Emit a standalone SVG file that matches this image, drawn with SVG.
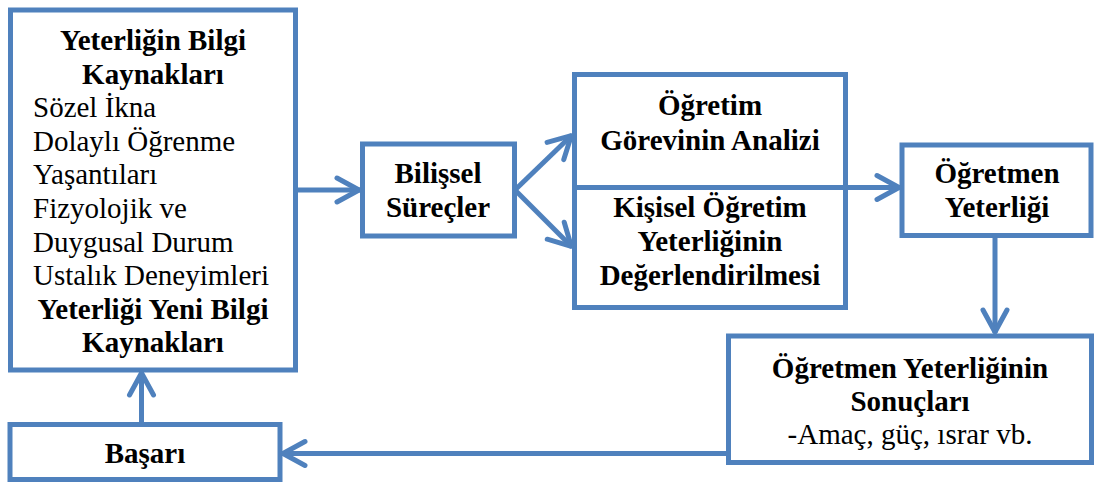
<svg xmlns="http://www.w3.org/2000/svg" width="1094" height="482" viewBox="0 0 1094 482">
<style>
.box{fill:#fff;stroke:#4F81BD;stroke-width:5}
.ln{fill:none;stroke:#4F81BD;stroke-width:5}
text{font-family:'Times New Roman','Liberation Serif',serif;font-size:29px;fill:#000}
.b{font-weight:bold}
.c{text-anchor:middle}
</style>
<defs>
<marker id="arr" markerUnits="userSpaceOnUse" markerWidth="40" markerHeight="40" viewBox="-30 -20 40 40" refX="0" refY="0" orient="auto" overflow="visible">
<path d="M-23,-12 L-1,0 L-23,12" fill="none" stroke="#4F81BD" stroke-width="5" stroke-linecap="round" stroke-linejoin="round"/>
</marker>
</defs>
<rect width="1094" height="482" fill="#fff"/>
<g id="node-kaynaklar">
<rect class="box" x="10.5" y="10" width="285" height="360"/>
<text class="b c" x="153" y="50">Yeterliğin Bilgi</text>
<text class="b c" x="153" y="83.5">Kaynakları</text>
<text x="33" y="117">Sözel İkna</text>
<text x="33" y="150.5">Dolaylı Öğrenme</text>
<text x="33" y="184">Yaşantıları</text>
<text x="33" y="218">Fizyolojik ve</text>
<text x="33" y="251.5">Duygusal Durum</text>
<text x="33" y="285">Ustalık Deneyimleri</text>
<text class="b c" x="153" y="318.5">Yeterliği Yeni Bilgi</text>
<text class="b c" x="153" y="352">Kaynakları</text>
</g>
<g id="node-bilissel">
<rect class="box" x="362.5" y="144" width="152" height="92"/>
<text class="b c" x="438" y="183">Bilişsel</text>
<text class="b c" x="438" y="217">Süreçler</text>
</g>
<g id="node-ogretim">
<rect class="box" x="574.5" y="74.5" width="271" height="233"/>
<text class="b c" x="710" y="115">Öğretim</text>
<text class="b c" x="710" y="150">Görevinin Analizi</text>
<text class="b c" x="710" y="217">Kişisel Öğretim</text>
<text class="b c" x="710" y="251">Yeterliğinin</text>
<text class="b c" x="710" y="285">Değerlendirilmesi</text>
</g>
<g id="node-ogretmen">
<rect class="box" x="902" y="145" width="189" height="90.5"/>
<text class="b c" x="997" y="183">Öğretmen</text>
<text class="b c" x="997" y="217">Yeterliği</text>
</g>
<g id="node-sonuclar">
<rect class="box" x="728.5" y="336" width="363" height="126.5"/>
<text class="b c" x="910" y="378">Öğretmen Yeterliğinin</text>
<text class="b c" x="910" y="411">Sonuçları</text>
<text class="c" x="910" y="444">-Amaç, güç, ısrar vb.</text>
</g>
<g id="node-basari">
<rect class="box" x="10" y="424.5" width="270" height="55"/>
<text class="b c" x="145" y="463">Başarı</text>
</g>
<g id="connectors">
<line class="ln" x1="298" y1="190" x2="360" y2="190" marker-end="url(#arr)"/>
<line class="ln" x1="516" y1="189" x2="572" y2="135" marker-end="url(#arr)"/>
<line class="ln" x1="516" y1="191" x2="572" y2="247" marker-end="url(#arr)"/>
<line class="ln" x1="572" y1="187.5" x2="900" y2="187.5" marker-end="url(#arr)"/>
<line class="ln" x1="995" y1="238" x2="995" y2="333" marker-end="url(#arr)"/>
<line class="ln" x1="726" y1="453.5" x2="282" y2="453.5" marker-end="url(#arr)"/>
<line class="ln" x1="141.5" y1="422" x2="141.5" y2="372" marker-end="url(#arr)"/>
</g>
</svg>
